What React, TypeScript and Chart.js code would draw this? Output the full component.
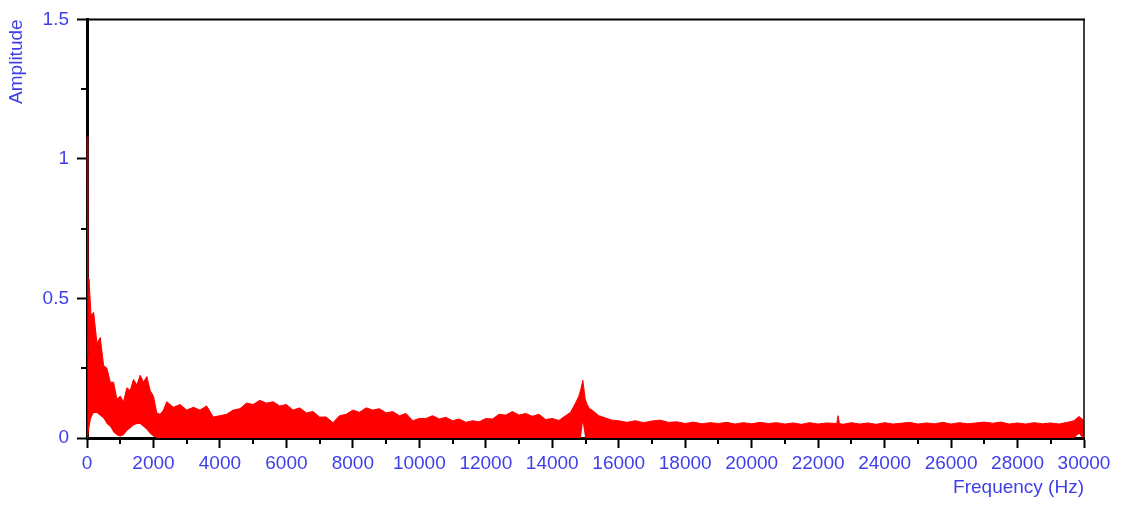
import React, { useEffect, useRef } from "react";
import { Chart, registerables } from "chart.js";

Chart.register(...registerables);

const BLUE = "#3f3fe8";
const FONT = { family: "'Liberation Sans', Arial, sans-serif", size: 19 };

// Frequency grid (Hz) of the read-off spectrum envelope
const freqHz = [
  0, 30, 60, 120, 200, 300, 400, 500, 600, 700,
  800, 900, 1000, 1100, 1200, 1300, 1400, 1500, 1600, 1700,
  1800, 1900, 2000, 2100, 2200, 2300, 2400, 2600, 2800, 3000,
  3200, 3400, 3600, 3800, 4000, 4200, 4400, 4600, 4800, 5000,
  5200, 5400, 5600, 5800, 6000, 6200, 6400, 6600, 6800, 7000,
  7200, 7400, 7600, 7800, 8000, 8200, 8400, 8600, 8800, 9000,
  9200, 9400, 9600, 9800, 10000, 10200, 10400, 10600, 10800, 11000,
  11200, 11400, 11600, 11800, 12000, 12200, 12400, 12600, 12800, 13000,
  13200, 13400, 13600, 13800, 14000, 14200, 14400, 14550, 14700, 14800,
  14860, 14920, 14990, 15050, 15120, 15200, 15400, 15600, 15800, 16000,
  16250, 16500, 16750, 17000, 17250, 17500, 17750, 18000, 18250, 18500,
  18750, 19000, 19250, 19500, 19750, 20000, 20250, 20500, 20750, 21000,
  21250, 21500, 21750, 22000, 22250, 22560, 22600, 22640, 22750, 23000,
  23250, 23500, 23750, 24000, 24250, 24500, 24750, 25000, 25250, 25500,
  25750, 26000, 26250, 26500, 26750, 27000, 27250, 27500, 27750, 28000,
  28250, 28500, 28750, 29000, 29250, 29500, 29700, 29850, 29950, 30000,
];

// Upper envelope of the amplitude
const upperAmp = [
  1.08, 0.3, 0.57, 0.44, 0.45, 0.34, 0.36, 0.26, 0.25, 0.2,
  0.2, 0.14, 0.15, 0.13, 0.18, 0.17, 0.21, 0.19, 0.225, 0.2,
  0.22, 0.17, 0.15, 0.09, 0.085, 0.1, 0.13, 0.11, 0.12, 0.1,
  0.11, 0.1, 0.115, 0.075, 0.08, 0.085, 0.1, 0.105, 0.125, 0.12,
  0.135, 0.125, 0.13, 0.115, 0.12, 0.1, 0.108, 0.09, 0.095, 0.075,
  0.075, 0.055, 0.08, 0.085, 0.1, 0.092, 0.108, 0.1, 0.105, 0.09,
  0.095, 0.08, 0.088, 0.062, 0.07, 0.07, 0.08, 0.068, 0.074, 0.062,
  0.068, 0.056, 0.062, 0.058, 0.07, 0.068, 0.085, 0.082, 0.095, 0.082,
  0.088, 0.078, 0.085, 0.066, 0.07, 0.063, 0.08, 0.092, 0.125, 0.15,
  0.175, 0.207, 0.14, 0.12, 0.105, 0.1, 0.08, 0.072, 0.064, 0.062,
  0.056, 0.062, 0.055, 0.061, 0.064, 0.056, 0.058, 0.052, 0.057, 0.051,
  0.055, 0.052, 0.056, 0.05, 0.055, 0.051, 0.056, 0.052, 0.055, 0.05,
  0.054, 0.049, 0.055, 0.05, 0.054, 0.052, 0.08, 0.052, 0.049, 0.055,
  0.05, 0.054, 0.049, 0.055, 0.05, 0.053, 0.056, 0.05, 0.054, 0.051,
  0.056, 0.05, 0.055, 0.051, 0.054, 0.057, 0.053, 0.057, 0.05, 0.054,
  0.05, 0.055, 0.051, 0.054, 0.05, 0.056, 0.062, 0.077, 0.068, 0.06,
];

// Lower envelope of the amplitude
const lowerAmp = [
  0, 0, 0.03, 0.07, 0.09, 0.09, 0.08, 0.07, 0.05, 0.04,
  0.02, 0.01, 0.005, 0.01, 0.025, 0.035, 0.045, 0.05, 0.05, 0.04,
  0.03, 0.015, 0.005, 0, 0, 0, 0, 0, 0, 0,
  0, 0, 0, 0, 0, 0, 0, 0, 0, 0,
  0, 0, 0, 0, 0, 0, 0, 0, 0, 0,
  0, 0, 0, 0, 0, 0, 0, 0, 0, 0,
  0, 0, 0, 0, 0, 0, 0, 0, 0, 0,
  0, 0, 0, 0, 0, 0, 0, 0, 0, 0,
  0, 0, 0, 0, 0, 0, 0, 0, 0, 0,
  0, 0.055, 0, 0, 0, 0, 0, 0, 0, 0,
  0, 0, 0, 0, 0, 0, 0, 0, 0, 0,
  0, 0, 0, 0, 0, 0, 0, 0, 0, 0,
  0, 0, 0, 0, 0, 0, 0, 0, 0, 0,
  0, 0, 0, 0, 0, 0, 0, 0, 0, 0,
  0, 0, 0, 0, 0, 0, 0, 0, 0, 0,
  0, 0, 0, 0, 0, 0, 0, 0.015, 0, 0,
];

const xMinorTicks = [1000, 3000, 5000, 7000, 9000, 11000, 13000, 15000, 17000, 19000, 21000, 23000, 25000, 27000, 29000];
const yMinorTicks = [0.25, 0.75, 1.25];

const framePlugin = {
  id: "frame",
  afterDraw(chart: any) {
    const { ctx, chartArea: a, scales } = chart;
    ctx.save();
    ctx.strokeStyle = "#000";
    ctx.lineWidth = 2;
    ctx.beginPath();
    xMinorTicks.forEach((v) => {
      const x = Math.round(scales.x.getPixelForValue(v));
      ctx.moveTo(x, a.bottom);
      ctx.lineTo(x, a.bottom + 6);
    });
    yMinorTicks.forEach((v) => {
      const y = Math.round(scales.y.getPixelForValue(v));
      ctx.moveTo(a.left - 6, y);
      ctx.lineTo(a.left, y);
    });
    ctx.stroke();
    ctx.lineWidth = 2;
    ctx.beginPath();
    ctx.moveTo(a.left, a.top);
    ctx.lineTo(a.right + 1, a.top);
    ctx.stroke();
    ctx.lineWidth = 1.5;
    ctx.beginPath();
    ctx.moveTo(a.right, a.top);
    ctx.lineTo(a.right, a.bottom);
    ctx.stroke();
    ctx.restore();
  },
};

export default function App() {
  const ref = useRef<HTMLCanvasElement | null>(null);

  useEffect(() => {
    if (!ref.current) return;
    const lower = freqHz.map((f, i) => ({ x: f, y: lowerAmp[i] }));
    const upper = freqHz.map((f, i) => ({ x: f, y: upperAmp[i] }));
    const chart = new Chart(ref.current, {
      type: "line",
      data: {
        datasets: [
          {
            label: "lower",
            data: lower,
            borderWidth: 0,
            borderColor: "rgba(255,0,0,0)",
            pointRadius: 0,
            fill: false,
            clip: { left: 2, right: 0, top: 0, bottom: 0 },
          } as any,
          {
            label: "Amplitude",
            data: upper,
            borderColor: "#ff0000",
            backgroundColor: "#ff0000",
            borderWidth: 1,
            pointRadius: 0,
            fill: "-1",
            clip: { left: 2, right: 0, top: 0, bottom: 0 },
            segment: {
              borderColor: (c: any) => (c.p0DataIndex === 0 ? "#8a1010" : undefined),
              backgroundColor: (c: any) => (c.p0DataIndex === 0 ? "#8a1010" : undefined),
            },
          } as any,
        ],
      },
      options: {
        animation: false,
        responsive: false,
        devicePixelRatio: 1,
        layout: { padding: { left: 0, right: 46, top: 18, bottom: 0 } },
        plugins: { legend: { display: false }, tooltip: { enabled: false } },
        scales: {
          x: {
            type: "linear",
            position: "bottom",
            min: 0,
            max: 30000,
            z: 1,
            afterFit: (s: any) => {
              s.height = 71;
            },
            ticks: {
              stepSize: 2000,
              autoSkip: false,
              maxRotation: 0,
              color: BLUE,
              font: FONT,
              padding: 4,
              callback: (v: any) => String(v),
            },
            grid: { drawOnChartArea: false, drawTicks: true, tickLength: 10, tickColor: "#000", tickWidth: 2 },
            border: { display: true, color: "#000", width: 3 },
            title: {
              display: true,
              text: "Frequency (Hz)",
              align: "end",
              color: BLUE,
              font: FONT,
              padding: { top: 0, bottom: 10 },
            },
          },
          y: {
            type: "linear",
            position: "left",
            min: 0,
            max: 1.5,
            afterFit: (s: any) => {
              s.width = 87;
            },
            ticks: {
              stepSize: 0.5,
              color: BLUE,
              font: FONT,
              padding: 8,
              callback: (v: any) => String(v),
            },
            grid: { drawOnChartArea: false, drawTicks: true, tickLength: 10, tickColor: "#000", tickWidth: 2 },
            border: { display: true, color: "#000", width: 3 },
            title: {
              display: true,
              text: "Amplitude",
              align: "end",
              color: BLUE,
              font: FONT,
              padding: { top: 5, bottom: 0 },
            },
          },
        },
      } as any,
      plugins: [framePlugin],
    });
    return () => chart.destroy();
  }, []);

  return (
    <div style={{ position: "fixed", left: 0, top: 0, width: 1130, height: 509, background: "#fff" }}>
      <canvas ref={ref} width={1130} height={509} style={{ width: 1130, height: 509, display: "block" }} />
    </div>
  );
}
